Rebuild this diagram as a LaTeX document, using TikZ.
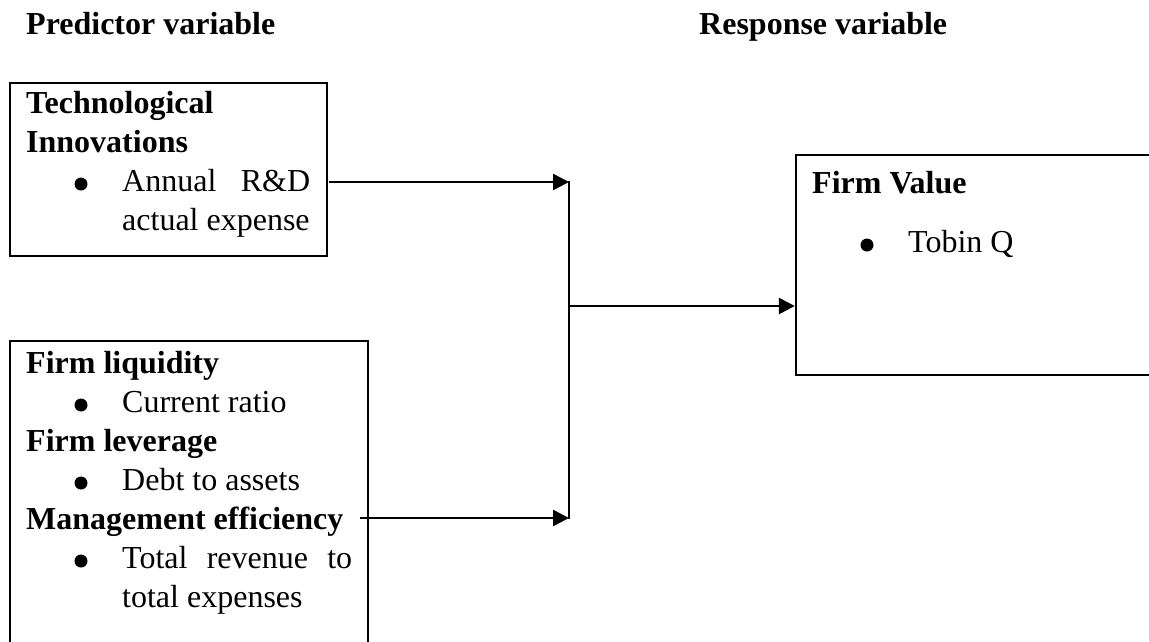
\documentclass[tikz,border=0pt]{standalone}
\usepackage{fontspec}
\setmainfont{Liberation Serif}
\usetikzlibrary{arrows.meta}
\begin{document}
\begin{tikzpicture}[x=1pt,y=-1pt,
  box/.style={draw, line width=2.4pt, inner sep=0pt},
  hd/.style={anchor=base west, inner sep=0pt, font=\fontsize{32}{39}\selectfont\bfseries},
  tx/.style={anchor=base west, inner sep=0pt, font=\fontsize{32}{39}\selectfont},
  bul/.style={circle, fill, inner sep=0pt, minimum size=13pt},
  conn/.style={line width=2.6pt},
  arr/.style={conn, -{Triangle[length=16pt,width=16pt]}}]
\useasboundingbox (0,0) rectangle (1149,641);
\clip (0,0) rectangle (1149,641);
% headers
\node[hd] (hpred) at (26,34) {Predictor variable};
\node[hd] (hresp) at (699,34) {Response variable};
% boxes
\node[box, minimum width=317pt, minimum height=173pt] (b1) at (168.5,169.5) {};
\node[box, minimum width=358pt, minimum height=330pt] (b2) at (189,506) {};
\node[box, minimum width=380pt, minimum height=220pt] (b3) at (986,265) {};
% box 1 text
\node[hd] (t1a) at (26,113) {Technological};
\node[hd] (t1b) at (26,152) {Innovations};
\node[bul] (u1) at (81,184) {};
\node[tx] (t1c) at (122,191) {\hbox to 188pt{Annual\hfill R\&D}};
\node[tx] (t1d) at (122,230) {actual expense};
% box 2 text
\node[hd] (t2a) at (26,373) {Firm liquidity};
\node[bul] (u2) at (81,405) {};
\node[tx] (t2b) at (122,412) {Current ratio};
\node[hd] (t2c) at (26,451) {Firm leverage};
\node[bul] (u3) at (81,483) {};
\node[tx] (t2d) at (122,490) {Debt to assets};
\node[hd] (t2e) at (26,529) {Management efficiency};
\node[bul] (u4) at (81,561) {};
\node[tx] (t2f) at (122,568) {\hbox to 230pt{Total\hfill revenue\hfill to}};
\node[tx] (t2g) at (122,607) {total expenses};
% box 3 text
\node[hd] (t3a) at (812,193) {Firm Value};
\node[bul] (u5) at (867,245) {};
\node[tx] (t3b) at (908,252) {Tobin Q};
% connectors
\coordinate (s1) at (329,182);
\coordinate (s2) at (360,518);
\coordinate (j1) at (569,182);
\coordinate (j2) at (569,518);
\coordinate (jm) at (569,306);
\draw[arr] (s1) -- (j1);
\draw[arr] (s2) -- (j2);
\draw[conn] ([yshift=1pt]j1) -- ([yshift=-1pt]j2);
\draw[arr] (jm) -- (jm -| b3.west);
\end{tikzpicture}
\end{document}
